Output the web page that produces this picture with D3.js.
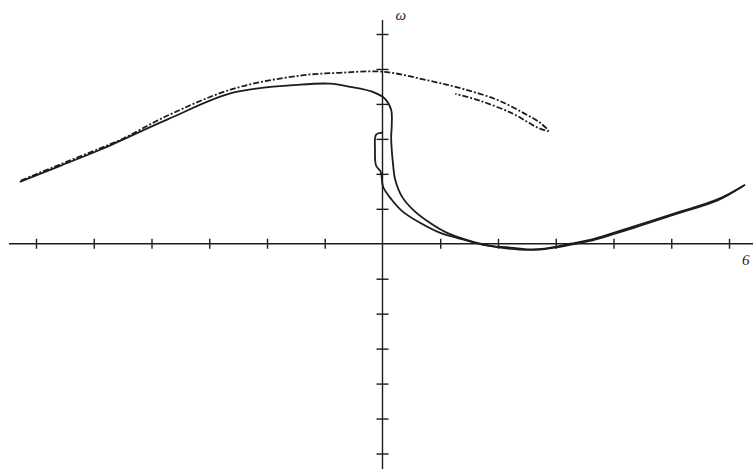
<!DOCTYPE html>
<html>
<head>
<meta charset="utf-8">
<script src="https://cdn.jsdelivr.net/npm/d3@7"></script>
<style>
  html, body { margin: 0; padding: 0; background: #fff; }
  svg { display: block; }
</style>
</head>
<body>
<svg id="chart" width="753" height="469"></svg>
<script>
// Phase portrait: angle θ (horizontal) against angular velocity ω (vertical)
const xTicks = [-6, -5, -4, -3, -2, -1, 1, 2, 3, 4, 5, 6];
const yTicks = [-6, -5, -4, -3, -2, -1, 1, 2, 3, 4, 5, 6];
const xEndLabel = "6";
const yAxisLabel = "ω";

// Trajectory that sweeps over the top, drops beside the ω-axis and swings out to the right
const outerTheta = [-6.28, -5.58, -4.89, -3.73, -2.59, -1.43, -0.91, -0.56, -0.18, 0.04, 0.15, 0.16, 0.15, 0.16, 0.18, 0.22, 0.34, 0.53, 0.82, 1.12, 1.46, 1.86, 2.38, 2.81, 3.25, 3.59, 4.34, 5.10, 5.79, 6.28];
const outerOmega = [1.77, 2.23, 2.69, 3.55, 4.32, 4.55, 4.58, 4.49, 4.35, 4.15, 3.83, 3.40, 3.06, 2.69, 2.32, 1.83, 1.34, 0.97, 0.60, 0.31, 0.11, -0.06, -0.17, -0.14, 0.0, 0.11, 0.49, 0.89, 1.26, 1.69];

// Upper trajectory: shares the rising branch, runs past the axis and folds back on itself
const upperTheta = [-6.26, -5.58, -4.89, -4.55, -3.73, -2.59, -1.43, -0.74, 0.01, 0.82, 1.39, 1.98, 2.43, 2.73, 2.87, 2.69, 2.26, 1.69, 1.26];
const upperOmega = [1.81, 2.27, 2.73, 2.96, 3.66, 4.43, 4.81, 4.89, 4.92, 4.66, 4.43, 4.12, 3.75, 3.46, 3.23, 3.32, 3.72, 4.09, 4.29];

// Inner trajectory starting at the ω-axis and settling onto the lower branch
const innerTheta = [0.01, -0.11, -0.13, -0.11, -0.03, 0.01, 0.16, 0.35, 0.65, 1.00, 1.29, 1.74, 2.21, 2.64, 3.07, 3.25, 3.59, 4.34, 5.10, 5.79, 6.25];
const innerOmega = [3.18, 3.12, 2.69, 2.23, 2.06, 1.63, 1.26, 0.92, 0.60, 0.31, 0.17, -0.03, -0.11, -0.17, -0.09, -0.03, 0.08, 0.45, 0.86, 1.23, 1.66];

const svg = d3.select("#chart");
const x = d3.scaleLinear().domain([-6, 6]).range([36, 729]);
const y = d3.scaleLinear().domain([-6, 6]).range([453.5, 34]);
const x0 = x(0), y0 = y(0);
const ink = "#1c1c1c";

// Horizontal θ-axis through ω = 0, ticks crossing the line
const gx = svg.append("g").attr("transform", `translate(0,${y0})`)
  .call(d3.axisBottom(x).tickValues(xTicks).tickSize(5).tickFormat(""));
gx.select(".domain").remove();
gx.selectAll(".tick line").attr("y1", -5).attr("y2", 5).attr("stroke", ink).attr("stroke-width", 1.4);
gx.append("line").attr("x1", 9).attr("x2", 753).attr("y1", 0).attr("y2", 0)
  .attr("stroke", ink).attr("stroke-width", 1.4);

// Vertical ω-axis through θ = 0
const gy = svg.append("g").attr("transform", `translate(${x0},0)`)
  .call(d3.axisLeft(y).tickValues(yTicks).tickSize(6).tickFormat(""));
gy.select(".domain").remove();
gy.selectAll(".tick line").attr("x1", -6).attr("x2", 6).attr("stroke", ink).attr("stroke-width", 1.4);
gy.append("line").attr("x1", 0).attr("x2", 0).attr("y1", 20).attr("y2", 469)
  .attr("stroke", ink).attr("stroke-width", 1.4);

svg.append("text").attr("x", 742).attr("y", 265)
  .attr("font-family", "Liberation Serif, DejaVu Serif, serif").attr("font-style", "italic")
  .attr("font-size", 15).attr("fill", ink).text(xEndLabel);
svg.append("text").attr("x", x0 + 13).attr("y", 20)
  .attr("font-family", "Liberation Serif, DejaVu Serif, serif").attr("font-style", "italic")
  .attr("font-size", 15).attr("fill", ink).text(yAxisLabel);

const line = d3.line()
  .x(d => x(d[0])).y(d => y(d[1]))
  .curve(d3.curveCatmullRom.alpha(0.5));
const zip = (a, b) => a.map((v, i) => [v, b[i]]);

svg.append("path").datum(zip(outerTheta, outerOmega))
  .attr("d", line).attr("fill", "none").attr("stroke", ink)
  .attr("stroke-width", 1.8).attr("stroke-linejoin", "round");

svg.append("path").datum(zip(upperTheta, upperOmega))
  .attr("d", line).attr("fill", "none").attr("stroke", ink)
  .attr("stroke-width", 1.8).attr("stroke-dasharray", "6,2,2,2");

svg.append("path").datum(zip(innerTheta, innerOmega))
  .attr("d", line).attr("fill", "none").attr("stroke", ink)
  .attr("stroke-width", 1.8).attr("stroke-linejoin", "round");
</script>
</body>
</html>
